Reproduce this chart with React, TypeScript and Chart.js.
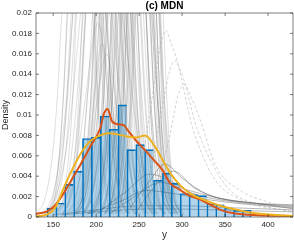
import React, { useEffect, useRef } from "react";
import { Chart, registerables } from "chart.js";

Chart.register(...registerables);

// ---------------- data ----------------
const BIN_CENTERS = [147.9, 158.2, 168.5, 178.9, 189.2, 199.5, 209.9, 220.2, 230.5, 240.9, 251.2, 261.5, 271.9, 282.2, 292.5, 302.9, 313.2, 323.5, 333.9, 344.2, 354.5, 364.9, 375.2];
const BIN_DENSITY = [0.00088, 0.00137, 0.0032, 0.0045, 0.0077, 0.0078, 0.0099, 0.0086, 0.011, 0.0066, 0.0071, 0.0066, 0.0036, 0.0043, 0.0033, 0.0023, 0.0022, 0.0021, 0.0013, 0.0012, 0.00088, 0.00065, 0.00065];

// orange curve
const KDE_X = [130, 142.7, 152.3, 162, 171.8, 183.4, 193.9, 204.7, 209.4, 213.2, 218.3, 224.9, 231.8, 237.7, 246.3, 256.3, 266.8, 277.2, 286.2, 296.7, 308.3, 321, 333, 344.6, 360, 388, 429];
const KDE_Y = [0.0003, 0.00056, 0.00115, 0.0023, 0.0037, 0.0054, 0.007, 0.0087, 0.0102, 0.0106, 0.0094, 0.0091, 0.009, 0.0084, 0.0075, 0.0066, 0.0056, 0.0046, 0.0033, 0.0027, 0.0021, 0.0017, 0.0012, 0.0007, 0.00036, 0.00017, 0.0001];

// yellow curve
const MDN_X = [130, 142.7, 152.3, 162, 171.8, 183.4, 193.9, 204.7, 214.4, 224.9, 235.8, 246.6, 257.1, 267.6, 279.2, 286.2, 297.8, 309.5, 325, 344.4, 363.9, 385.2, 429];
const MDN_Y = [0.00007, 0.00023, 0.0009, 0.0028, 0.0046, 0.0064, 0.0075, 0.008, 0.0082, 0.0081, 0.0079, 0.0078, 0.008, 0.007, 0.0053, 0.0043, 0.0031, 0.0023, 0.0017, 0.0011, 0.0007, 0.00036, 0.0001];

// grey component curves: x where each crosses the density levels (per mille)
const GREY_LEVELS = [0.3, 2, 6, 12, 20];
const GREY_RISE = [
  [131, 141, 149, 155, 160], [141, 150, 157, 162, 167], [141, 152, 160, 167, 173], [153, 162, 168, 173, 177],
  [152, 163, 171, 178, 185], [167, 177, 184, 190], [161, 170, 177, 182, 187], [176, 184, 191, 198],
  [161, 171, 178, 183, 188], [175, 185, 194, 202], [165, 176, 184, 190, 196], [179, 187, 193, 197, 201],
  [174, 184, 192, 198, 204], [178, 187, 194, 199, 204], [183, 192, 198, 203, 207], [178, 189, 197, 203, 209],
  [191, 199, 204, 209, 212], [184, 194, 202, 208, 213], [191, 201, 208, 213, 218], [195, 203, 210, 214, 219],
  [193, 203, 211, 217, 222], [204, 212, 217, 222, 226], [198, 207, 214, 219, 223], [205, 213, 220, 225, 229],
  [201, 211, 219, 225, 230], [211, 219, 225, 229, 233], [210, 219, 225, 230, 234], [219, 226, 232, 236, 240],
  [217, 225, 230, 235, 238], [139, 153, 164, 173, 182], [150, 165, 178, 188, 200], [189, 202, 211, 219, 226],
  [222, 230, 236, 241, 245], [214, 224, 231, 237, 242], [226, 233, 238, 242, 246], [170, 180, 188, 194, 199],
  [186, 195, 202, 207, 211], [144, 152, 157, 162, 166], [144, 154, 161, 166, 171], [145, 156, 164, 170, 176],
  [161, 169, 175, 180, 184], [155, 166, 175, 182, 188], [176, 184, 190, 195, 199], [173, 182, 189, 194, 198],
  [177, 187, 195, 201, 206], [185, 193, 200, 204, 209], [195, 203, 209, 214, 218], [185, 195, 203, 209, 214],
  [197, 205, 211, 216, 220], [195, 205, 213, 219, 224], [209, 217, 222, 227, 231], [203, 212, 219, 224, 228],
  [210, 219, 226, 231, 236], [214, 222, 228, 232, 236], [211, 220, 227, 232, 237], [223, 230, 235, 240, 243],
  [136, 149, 158, 166, 173],
];
const GREY_PEAK = [
  [178, 40], [185, 45], [190, 35], [195, 50], [198, 30], [202, 19], [205, 45], [207, 17],
  [210, 60], [212, 16], [215, 40], [218, 55], [220, 35], [222, 45], [225, 50], [228, 40],
  [230, 60], [232, 45], [235, 40], [237, 55], [240, 42], [242, 50], [244, 60], [246, 45],
  [248, 40], [250, 55], [252, 50], [254, 45], [256, 60], [200, 30], [215, 25], [245, 35],
  [260, 50], [258, 40], [262, 55], [213, 48], [226, 38], [182, 50], [188, 40], [196, 45],
  [203, 60], [208, 40], [214, 45], [219, 60], [224, 40], [227, 55], [233, 45], [236, 50],
  [239, 60], [243, 45], [247, 50], [249, 60], [251, 40], [253, 55], [255, 45], [258, 50],
  [192, 35],
];
const GREY_FALL = [
  [196, 201, 207, 215, 225], [203, 208, 213, 220, 229], [207, 213, 220, 228, 239], [213, 217, 222, 228, 237],
  [211, 218, 225, 233, 244], [214, 220, 227, 237], [223, 228, 233, 240, 249], [216, 223, 230, 238],
  [232, 237, 242, 249, 259], [222, 230, 239, 249], [234, 240, 246, 254, 265], [235, 239, 243, 249, 257],
  [236, 242, 248, 256, 266], [240, 245, 250, 257, 266], [243, 247, 252, 258, 267], [247, 253, 259, 267, 278],
  [248, 251, 256, 261, 269], [251, 256, 262, 270, 280], [252, 257, 262, 269, 279], [255, 260, 264, 271, 279],
  [258, 263, 269, 277, 287], [258, 262, 267, 272, 280], [265, 269, 274, 281, 290], [263, 267, 272, 279, 287],
  [266, 271, 277, 285, 295], [267, 271, 275, 281, 289], [270, 274, 279, 285, 294], [268, 272, 276, 282, 289],
  [274, 277, 282, 287, 295], [218, 227, 236, 247, 261], [230, 242, 252, 265, 280], [264, 271, 279, 288, 301],
  [275, 279, 284, 290, 298], [274, 279, 285, 292, 302], [278, 282, 286, 291, 298], [227, 232, 238, 246, 256],
  [241, 246, 252, 259, 268], [198, 202, 207, 212, 220], [205, 210, 215, 222, 232], [216, 222, 228, 236, 247],
  [222, 226, 231, 237, 245], [228, 234, 241, 250, 261], [229, 233, 238, 244, 252], [240, 244, 249, 256, 265],
  [242, 247, 253, 261, 271], [245, 250, 254, 261, 269], [248, 252, 257, 263, 271], [258, 263, 269, 277, 287],
  [258, 262, 267, 273, 281], [262, 267, 273, 281, 291], [263, 267, 272, 277, 285], [270, 274, 279, 286, 295],
  [266, 271, 276, 283, 292], [270, 274, 278, 284, 292], [273, 278, 283, 290, 299], [273, 276, 281, 286, 293],
  [211, 218, 226, 235, 248],
];

// long flat tails (per mille)
const TAIL_X = [
  [200, 235, 262, 285, 310, 350, 429],
  [215, 245, 275, 300, 340, 390, 429],
  [190, 230, 258, 290, 330, 380, 429],
  [150, 200, 250, 300, 360, 429],
  [160, 215, 270, 340, 429],
  [235, 262, 280, 300, 330, 380, 429],
  [245, 268, 290, 315, 345, 390, 429],
];
const TAIL_Y = [
  [0.3, 2.5, 4.2, 3.6, 2.4, 1.6, 1.0],
  [0.3, 2, 3.4, 2.8, 1.9, 1.3, 1.1],
  [0.3, 1.6, 2.6, 2.3, 1.7, 1.2, 0.9],
  [0.2, 0.7, 1.1, 1.1, 0.9, 0.7],
  [0.2, 0.6, 0.8, 0.7, 0.5],
  [0.4, 3.5, 5.2, 3.8, 2.2, 1.4, 1.2],
  [0.3, 3, 4.5, 2.8, 1.8, 1.3, 0.8],
];

// light dashed wide components (per mille)
const LIGHT_X = [
  [215, 238, 252, 262, 271.1, 274.6, 281.2, 287, 292.8, 298.7, 304.5, 310.3, 321.1, 338.6, 367.7, 429],
  [232, 253, 265, 273, 280, 285, 291.7, 298.7, 304.5, 310.3, 314.1, 332.8, 356, 391, 429],
  [237, 258, 273, 283, 290.9, 294.7, 302.5, 310.3, 318, 322, 338.6, 367.7, 402.6, 429],
];
const LIGHT_Y = [
  [0.3, 1.5, 5, 10, 15, 16.7, 18.3, 17.05, 15.7, 13.8, 11.5, 9.3, 6.6, 3.6, 1.7, 0.5],
  [0.4, 2, 5, 9, 12.1, 14.2, 15.3, 14.2, 12.8, 10.8, 9.5, 5.6, 2.6, 1.2, 0.5],
  [0.4, 1.5, 4, 7, 10.2, 11.8, 13, 11.8, 10.2, 9.3, 5.1, 2.6, 1.4, 0.8],
];

const X_TICKS = [150, 200, 250, 300, 350, 400];
const Y_TICKS = [0, 0.002, 0.004, 0.006, 0.008, 0.01, 0.012, 0.014, 0.016, 0.018, 0.02];
const Y_TICK_LABELS = ["0", "0.002", "0.004", "0.006", "0.008", "0.01", "0.012", "0.014", "0.016", "0.018", "0.02"];

const FONT = "'Liberation Sans', Arial, Helvetica, sans-serif";
const TEXT = "#262626";

function greyCurve(i: number) {
  const rise = GREY_RISE[i];
  const fall = GREY_FALL[i];
  const pts: { x: number; y: number }[] = [];
  rise.forEach((x, k) => pts.push({ x, y: GREY_LEVELS[k] / 1000 }));
  pts.push({ x: GREY_PEAK[i][0], y: GREY_PEAK[i][1] / 1000 });
  fall.forEach((x, k) => pts.push({ x, y: GREY_LEVELS[fall.length - 1 - k] / 1000 }));
  return pts;
}

const boxPlugin = {
  id: "boxTicks",
  afterDatasetsDraw(chart: any) {
    const { ctx, chartArea } = chart;
    const { left, right, top, bottom } = chartArea;
    const xs = chart.scales.x;
    const ys = chart.scales.y;
    ctx.save();
    ctx.strokeStyle = "rgba(38,38,38,0.75)";
    ctx.lineWidth = 0.8;
    ctx.beginPath();
    ctx.rect(left, top, right - left, bottom - top);
    ctx.stroke();
    const L = 3;
    ctx.beginPath();
    X_TICKS.forEach((v) => {
      const p = xs.getPixelForValue(v);
      ctx.moveTo(p, bottom);
      ctx.lineTo(p, bottom - L);
      ctx.moveTo(p, top);
      ctx.lineTo(p, top + L);
    });
    Y_TICKS.forEach((v) => {
      const p = ys.getPixelForValue(v);
      ctx.moveTo(left, p);
      ctx.lineTo(left + L, p);
      ctx.moveTo(right, p);
      ctx.lineTo(right - L, p);
    });
    ctx.stroke();
    ctx.restore();
  },
};

export default function App() {
  const ref = useRef<HTMLCanvasElement>(null);

  useEffect(() => {
    const datasets: any[] = [];

    datasets.push({
      type: "line",
      label: "MDN",
      data: MDN_X.map((x, i) => ({ x, y: MDN_Y[i] })),
      borderColor: "#EDB120",
      borderWidth: 2,
      pointRadius: 0,
      cubicInterpolationMode: "monotone",
      order: 1,
    });
    datasets.push({
      type: "line",
      label: "KDE",
      data: KDE_X.map((x, i) => ({ x, y: KDE_Y[i] })),
      borderColor: "#D95319",
      borderWidth: 2,
      pointRadius: 0,
      cubicInterpolationMode: "monotone",
      order: 2,
    });
    datasets.push({
      type: "bar",
      label: "hist",
      data: BIN_CENTERS.map((x, i) => ({ x, y: BIN_DENSITY[i] })),
      backgroundColor: "rgba(0,114,189,0.3)",
      borderColor: "#0072BD",
      borderWidth: (c: any) => ({ left: 1, top: 1, right: c.dataIndex === BIN_CENTERS.length - 1 ? 1 : 0, bottom: 0 }),
      borderSkipped: false,
      barPercentage: 1,
      categoryPercentage: 1,
      order: 3,
    });
    LIGHT_X.forEach((xs, j) => {
      datasets.push({
        type: "line",
        data: xs.map((x, i) => ({ x, y: LIGHT_Y[j][i] / 1000 })),
        borderColor: "rgba(165,165,165,0.8)",
        borderWidth: 0.6,
        borderDash: [3, 2],
        pointRadius: 0,
        cubicInterpolationMode: "monotone",
        order: 4,
      });
    });
    TAIL_X.forEach((xs, j) => {
      datasets.push({
        type: "line",
        data: xs.map((x, i) => ({ x, y: TAIL_Y[j][i] / 1000 })),
        borderColor: "rgba(80,80,80,0.6)",
        borderWidth: 0.7,
        pointRadius: 0,
        cubicInterpolationMode: "monotone",
        order: 5,
      });
    });
    GREY_RISE.forEach((_, i) => {
      datasets.push({
        type: "line",
        data: greyCurve(i),
        borderColor: "rgba(110,110,110,0.38)",
        borderWidth: 0.6,
        pointRadius: 0,
        cubicInterpolationMode: "monotone",
        order: 6,
      });
    });

    const chart = new Chart(ref.current as HTMLCanvasElement, {
      type: "bar",
      data: { datasets },
      plugins: [boxPlugin],
      options: {
        animation: false,
        responsive: false,
        maintainAspectRatio: false,
        layout: { padding: { left: 0, right: 1, top: 0, bottom: 0 } },
        plugins: {
          legend: { display: false },
          tooltip: { enabled: false },
          title: {
            display: true,
            text: "(c) MDN",
            fullSize: false,
            color: "#000",
            font: { family: FONT, size: 10, weight: "bold", lineHeight: 1 },
            padding: { top: 1, bottom: 2 },
          },
        },
        scales: {
          x: {
            type: "linear",
            min: 130,
            max: 429,
            offset: false,
            grid: { display: false, drawTicks: false, offset: false },
            border: { display: false },
            ticks: {
              color: TEXT,
              font: { family: FONT, size: 8 },
              padding: 3,
              maxRotation: 0,
              autoSkip: false,
              callback: (v: any) => String(v),
            },
            afterBuildTicks: (axis: any) => {
              axis.ticks = X_TICKS.map((v) => ({ value: v }));
            },
            afterFit: (axis: any) => {
              axis.height = 27;
            },
            title: {
              display: true,
              text: "y",
              color: TEXT,
              font: { family: FONT, size: 10 },
              padding: { top: 0, bottom: 2.5 },
            },
          },
          y: {
            type: "linear",
            min: 0,
            max: 0.02,
            grid: { display: false, drawTicks: false },
            border: { display: false },
            ticks: {
              color: TEXT,
              font: { family: FONT, size: 8 },
              padding: 4,
              autoSkip: false,
              callback: (_v: any, i: number) => Y_TICK_LABELS[i],
            },
            afterBuildTicks: (axis: any) => {
              axis.ticks = Y_TICKS.map((v) => ({ value: v }));
            },
            afterFit: (axis: any) => {
              axis.width = 36;
            },
            title: {
              display: true,
              text: "Density",
              color: TEXT,
              font: { family: FONT, size: 9 },
              padding: { top: 0, bottom: 0 },
            },
          },
        },
      } as any,
    });
    return () => chart.destroy();
  }, []);

  return (
    <div style={{ position: "fixed", left: 0, top: 0, width: 294, height: 244, background: "#fff" }}>
      <canvas ref={ref} width={294} height={244} style={{ display: "block", width: 294, height: 244 }} />
    </div>
  );
}
